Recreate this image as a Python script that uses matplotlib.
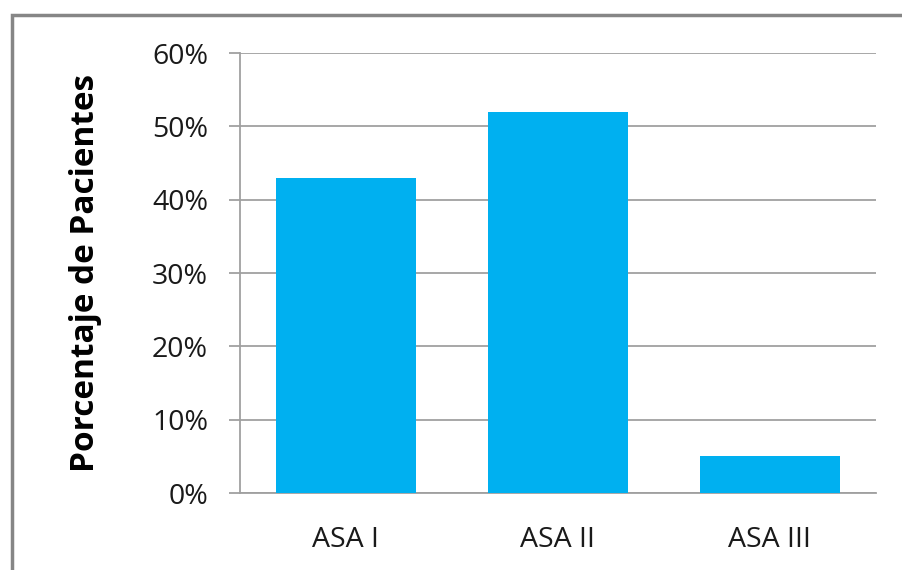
import matplotlib.pyplot as plt
from matplotlib.patches import Rectangle
from matplotlib.ticker import PercentFormatter

# datos
categorias = ["ASA I", "ASA II", "ASA III"]
porcentajes = [43, 52, 5]
ticks_y = [0, 10, 20, 30, 40, 50, 60]

plt.rcParams['font.family'] = ['Open Sans', 'DejaVu Sans']

fig = plt.figure(figsize=(9.03, 5.70), dpi=100)
ax = fig.add_axes([240 / 903, 77 / 570, 636 / 903, 440 / 570])

# marco gris alrededor del gráfico
fig.patches.append(Rectangle((12 / 903, -0.1), 1.2, (555 + 57) / 570,
                             transform=fig.transFigure, fill=False,
                             edgecolor='#868686', linewidth=2.5))

x = range(len(categorias))
ax.bar(x, porcentajes, width=0.665, color='#00B0F0', zorder=3)

ax.set_xlim(-0.5, len(categorias) - 0.5)
ax.set_ylim(0, 60)
ax.set_yticks(ticks_y)
ax.yaxis.set_major_formatter(PercentFormatter(decimals=0))
ax.set_xticks(list(x))
ax.set_xticklabels(categorias)

ax.grid(axis='y', color='#A0A0A0', linewidth=1.3, zorder=0)
for lado in ['top', 'right']:
    ax.spines[lado].set_visible(False)
ax.spines['left'].set_color('#A0A0A0')
ax.spines['bottom'].set_color('#A0A0A0')
ax.spines['left'].set_linewidth(1.3)
ax.spines['bottom'].set_linewidth(1.3)

ax.tick_params(axis='y', length=8, width=1.3, color='#A0A0A0', pad=15,
               labelsize=20.5, labelcolor='#1a1a1a')
ax.tick_params(axis='x', length=0, pad=24, labelsize=20.5, labelcolor='#1a1a1a')

ax.set_ylabel("Porcentaje de Pacientes", fontsize=24, fontweight='bold',
              labelpad=36)

fig.savefig("out.png", dpi=100)
